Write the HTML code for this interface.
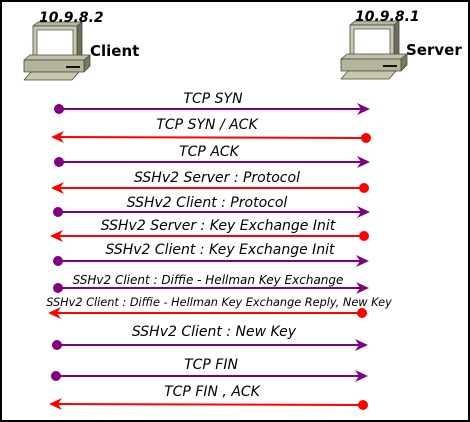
<!DOCTYPE html>
<html><head><style>html,body{margin:0;padding:0;background:#fff}svg{display:block}</style></head><body>
<svg width="470" height="422" viewBox="0 0 470 422" xmlns="http://www.w3.org/2000/svg" font-family="DejaVu Sans, sans-serif">
<rect x="1" y="1" width="468" height="420" fill="#fff" stroke="#000" stroke-width="2"/>
<defs>
<g id="pc" stroke="#4a4a3a" stroke-width="0.8" stroke-linejoin="round">
<polygon points="9,4 14,0 58,0 53,4" fill="#b8b8a0"/>
<polygon points="53,4 58,0 58,33 53,38" fill="#6e6e58"/>
<rect x="9" y="4" width="44" height="34" fill="#c8c8b0"/>
<rect x="13" y="8" width="36" height="26" fill="#fff" stroke="#555"/>
<polygon points="0,38 6,33 66,33 60,38" fill="#c0c0a8"/>
<polygon points="60,38 66,33 66,44 60,50" fill="#7a7a62"/>
<rect x="0" y="38" width="60" height="12" fill="#b4b49c"/>
<rect x="42" y="44" width="14" height="2" fill="#111" stroke="none"/>
<polygon points="7,50 55,50 48,58 0,58" fill="#c8c8b0"/>
</g>
</defs>
<use href="#pc" x="24" y="22"/>
<use href="#pc" x="341" y="21"/>
<g font-weight="bold">
<text x="39" y="22" font-style="italic" font-size="14">10.9.8.2</text>
<text x="90" y="56" font-size="15">Client</text>
<text x="355" y="21" font-style="italic" font-size="14">10.9.8.1</text>
<text x="406" y="55" font-size="15">Server</text>
</g>
<g font-style="italic" font-size="14" text-anchor="middle" fill="#000">
<text x="213" y="103">TCP SYN</text>
<text x="207" y="129">TCP SYN / ACK</text>
<text x="209" y="156">TCP ACK</text>
<text x="217" y="182">SSHv2 Server : Protocol</text>
<text x="207" y="207">SSHv2 Client : Protocol</text>
<text x="218" y="230">SSHv2 Server : Key Exchange Init</text>
<text x="220" y="254">SSHv2 Client : Key Exchange Init</text>
<text x="208" y="284" font-size="12">SSHv2 Client : Diffie - Hellman Key Exchange</text>
<text x="219" y="306" font-size="11.3">SSHv2 Client : Diffie - Hellman Key Exchange Reply, New Key</text>
<text x="214" y="336">SSHv2 Client : New Key</text>
<text x="211" y="369">TCP FIN</text>
<text x="212" y="396">TCP FIN , ACK</text>
</g>
<g stroke-width="2">
<g stroke="#800080" fill="#800080">
<line x1="59" y1="109" x2="362" y2="109"/><circle cx="59" cy="109" r="5" stroke="none"/><path d="M370,109 L357,103 L361,109 L357,115Z" stroke="none"/>
<line x1="59" y1="162" x2="362" y2="162"/><circle cx="59" cy="162" r="5" stroke="none"/><path d="M370,162 L357,156 L361,162 L357,168Z" stroke="none"/>
<line x1="58" y1="212" x2="362" y2="212"/><circle cx="58" cy="212" r="5" stroke="none"/><path d="M370,212 L357,206 L361,212 L357,218Z" stroke="none"/>
<line x1="58" y1="261" x2="361" y2="261"/><circle cx="58" cy="261" r="5" stroke="none"/><path d="M369,261 L356,255 L360,261 L356,267Z" stroke="none"/>
<line x1="58" y1="288" x2="361" y2="288"/><circle cx="58" cy="288" r="5" stroke="none"/><path d="M369,288 L356,282 L360,288 L356,294Z" stroke="none"/>
<line x1="57" y1="345" x2="360" y2="345"/><circle cx="57" cy="345" r="5" stroke="none"/><path d="M368,345 L355,339 L359,345 L355,351Z" stroke="none"/>
<line x1="56" y1="376" x2="360" y2="376"/><circle cx="56" cy="376" r="5" stroke="none"/><path d="M368,376 L355,370 L359,376 L355,382Z" stroke="none"/>
</g>
<g stroke="#ff0000" fill="#ff0000">
<line x1="366" y1="138" x2="58" y2="137"/><circle cx="366" cy="138" r="5" stroke="none"/><path d="M51,137 L64,131 L60,137 L64,143Z" stroke="none"/>
<line x1="364" y1="188" x2="58" y2="188"/><circle cx="364" cy="188" r="5" stroke="none"/><path d="M51,188 L64,182 L60,188 L64,194Z" stroke="none"/>
<line x1="364" y1="236" x2="57" y2="236"/><circle cx="364" cy="236" r="5" stroke="none"/><path d="M50,236 L63,230 L59,236 L63,242Z" stroke="none"/>
<line x1="362" y1="313" x2="55" y2="313"/><circle cx="362" cy="313" r="5" stroke="none"/><path d="M48,313 L61,307 L57,313 L61,319Z" stroke="none"/>
<line x1="363" y1="405" x2="56" y2="404"/><circle cx="363" cy="405" r="5" stroke="none"/><path d="M49,404 L62,398 L58,404 L62,410Z" stroke="none"/>
</g>
</g>
</svg>
</body></html>
